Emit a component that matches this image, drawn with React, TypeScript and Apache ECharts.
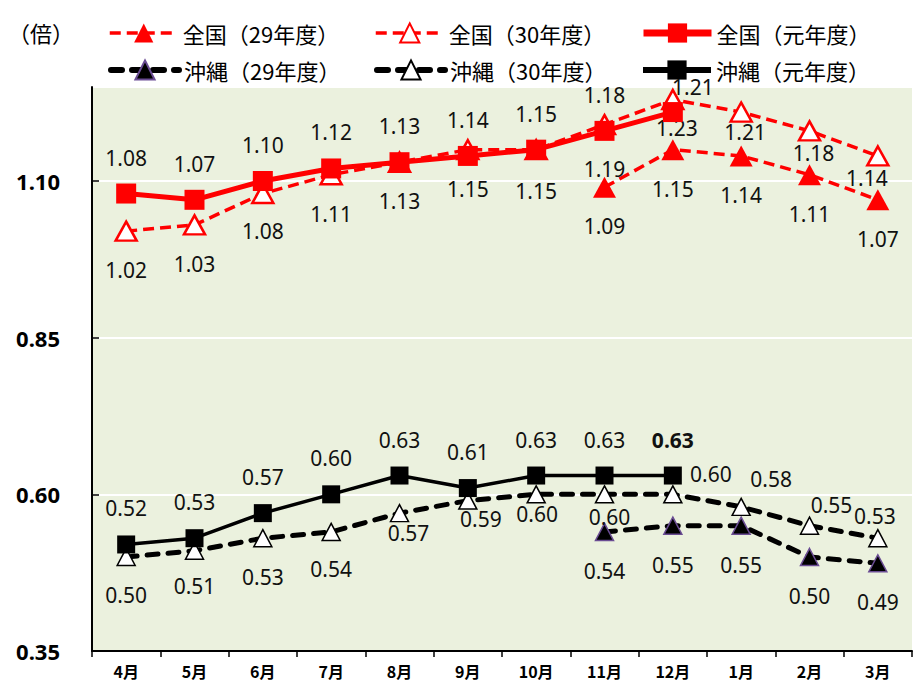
import React, { useEffect, useRef } from "react";
import * as echarts from "echarts";

// ---- data ----
const months = ["4月", "5月", "6月", "7月", "8月", "9月", "10月", "11月", "12月", "1月", "2月", "3月"];
const yTicks = [0.35, 0.6, 0.85, 1.1];

const zenkoku29 = [null, null, null, null, null, null, null, 1.09, 1.15, 1.14, 1.11, 1.07];
const zenkoku30 = [1.02, 1.03, 1.08, 1.11, 1.13, 1.15, 1.15, 1.19, 1.23, 1.21, 1.18, 1.14];
const zenkokuR1 = [1.08, 1.07, 1.10, 1.12, 1.13, 1.14, 1.15, 1.18, 1.21, null, null, null];
const okinawa29 = [null, null, null, null, null, null, null, 0.54, 0.55, 0.55, 0.50, 0.49];
const okinawa30 = [0.50, 0.51, 0.53, 0.54, 0.57, 0.59, 0.60, 0.60, 0.60, 0.58, 0.55, 0.53];
const okinawaR1 = [0.52, 0.53, 0.57, 0.60, 0.63, 0.61, 0.63, 0.63, 0.63, null, null, null];

const names = ["全国（29年度）", "全国（30年度）", "全国（元年度）", "沖縄（29年度）", "沖縄（30年度）", "沖縄（元年度）"];

// ---- label placement (styling only) ----
const UP: [number, number] = [0, -36];
const DN: [number, number] = [0, 39];
const offZ29 = months.map(() => DN);
const offZ30: [number, number][] = [DN, DN, [0, 37], DN, DN, DN, [0, 41], [0, 44], [4, 28], [4, 20], [4, 22], [-11, 22]];
const offZR1: [number, number][] = [UP, UP, UP, UP, UP, UP, UP, UP, [20, -25], UP, UP, UP];
const offO29 = months.map(() => DN);
const offO30: [number, number][] = [[0, 38], [0, 35], [0, 39], [0, 37], [9, 20], [13, 18], [1, 20], [5, 23], [38, -20], [30, -28], [22, -21], [-3, -22]];
const offOR1 = months.map(() => UP);
const boldOR1 = [false, false, false, false, false, false, false, false, true, false, false, false];

const LABEL_FONT = "'Noto Sans', 'DejaVu Sans', sans-serif";
const CJK_FONT = "'Noto Sans CJK JP', 'Noto Sans', sans-serif";

function buildData(values: (number | null)[], offsets: [number, number][], bold?: boolean[]) {
  return values.map((v, i) =>
    v == null
      ? null
      : {
          value: v,
          label: {
            offset: offsets[i],
            fontWeight: bold && bold[i] ? "bold" : "normal",
          },
        }
  );
}

const baseLabel = {
  show: true,
  position: "inside",
  fontFamily: LABEL_FONT,
  fontSize: 21,
  color: "#111",
  formatter: (p: any) => (typeof p.value === "number" ? p.value.toFixed(2) : ""),
};

export default function App() {
  const ref = useRef<HTMLDivElement>(null);
  useEffect(() => {
    if (!ref.current) return;
    const chart = echarts.init(ref.current, undefined, { renderer: "svg" });
    const legendCommon = {
      orient: "horizontal",
      itemWidth: 68,
      itemHeight: 24,
      itemGap: 0,
      padding: 0,
      selectedMode: false,
      textStyle: { fontSize: 22, fontFamily: CJK_FONT, color: "#000" },
    };
    const red = "#FF0000";
    chart.setOption({
      animation: false,
      backgroundColor: "#fff",
      graphic: [
        {
          type: "text",
          left: 8,
          top: 21,
          style: { text: "（倍）", fontSize: 22, fontFamily: CJK_FONT, fill: "#000" },
        },
      ],
      legend: [
        { ...legendCommon, data: [names[0]], left: 108, top: 22, lineStyle: { width: 3.5 } },
        { ...legendCommon, data: [names[1]], left: 374, top: 22, lineStyle: { width: 3.5 } },
        { ...legendCommon, data: [names[2]], left: 640, top: 22, lineStyle: { width: 7 } },
        { ...legendCommon, data: [names[3]], left: 108, top: 59, lineStyle: { width: 6 } },
        { ...legendCommon, data: [names[4]], left: 374, top: 59, lineStyle: { width: 6 } },
        { ...legendCommon, data: [names[5]], left: 640, top: 59, lineStyle: { width: 6 } },
      ],
      grid: {
        left: 92,
        right: 2,
        top: 87,
        bottom: 39,
        show: true,
        backgroundColor: "#EBF1DE",
        borderWidth: 0,
      },
      xAxis: {
        type: "category",
        data: months,
        boundaryGap: true,
        axisLine: { show: true, lineStyle: { color: "#000", width: 2 } },
        axisTick: { show: true, inside: false, length: 6, lineStyle: { color: "#000", width: 1.5 } },
        axisLabel: { fontFamily: CJK_FONT, fontSize: 16, fontWeight: "bold", color: "#000", margin: 12 },
        splitLine: { show: false },
      },
      yAxis: {
        type: "value",
        min: yTicks[0],
        max: 1.25,
        interval: 0.25,
        axisLine: { show: true, lineStyle: { color: "#000", width: 2 } },
        axisTick: { show: true, inside: true, length: 7, lineStyle: { color: "#000", width: 1.5 } },
        axisLabel: {
          showMaxLabel: false,
          fontFamily: LABEL_FONT,
          fontSize: 22,
          fontWeight: "bold",
          color: "#000",
          margin: 32,
          formatter: (v: number) => (yTicks.some((t) => Math.abs(t - v) < 1e-6) ? v.toFixed(2) : ""),
        },
        splitLine: { show: true, lineStyle: { color: "#fff", width: 2 } },
      },
      series: [
        {
          name: names[3],
          type: "line",
          data: buildData(okinawa29, offO29),
          symbol: "triangle",
          symbolSize: [18, 17],
          itemStyle: { color: "#000", borderColor: "#6A4C93", borderWidth: 1.5 },
          lineStyle: { color: "#000", width: 5, type: [11, 10], cap: "round" },
          label: baseLabel,
          z: 2,
        },
        {
          name: names[4],
          type: "line",
          data: buildData(okinawa30, offO30),
          symbol: "triangle",
          symbolSize: [18, 17],
          itemStyle: { color: "#fff", borderColor: "#000", borderWidth: 1.5 },
          lineStyle: { color: "#000", width: 5, type: [11, 10], cap: "round" },
          label: baseLabel,
          z: 3,
        },
        {
          name: names[5],
          type: "line",
          data: buildData(okinawaR1, offOR1, boldOR1),
          symbol: "rect",
          symbolSize: 18,
          itemStyle: { color: "#000" },
          lineStyle: { color: "#000", width: 3.5 },
          label: baseLabel,
          z: 4,
        },
        {
          name: names[0],
          type: "line",
          data: buildData(zenkoku29, offZ29),
          symbol: "triangle",
          symbolSize: [23, 21],
          itemStyle: { color: red },
          lineStyle: { color: red, width: 3.5, type: [11, 6] },
          label: baseLabel,
          z: 5,
        },
        {
          name: names[1],
          type: "line",
          data: buildData(zenkoku30, offZ30),
          symbol: "triangle",
          symbolSize: [21, 19],
          itemStyle: { color: "#fff", borderColor: red, borderWidth: 2.5 },
          lineStyle: { color: red, width: 3.5, type: [11, 6] },
          label: baseLabel,
          z: 6,
        },
        {
          name: names[2],
          type: "line",
          data: buildData(zenkokuR1, offZR1),
          symbol: "rect",
          symbolSize: 20,
          itemStyle: { color: red },
          lineStyle: { color: red, width: 5 },
          label: baseLabel,
          z: 7,
        },
      ],
    });
    return () => chart.dispose();
  }, []);
  return <div ref={ref} style={{ width: 914, height: 690, position: "absolute", left: 0, top: 0 }} />;
}
